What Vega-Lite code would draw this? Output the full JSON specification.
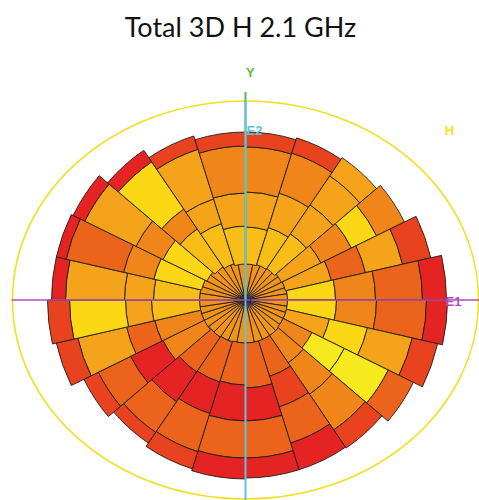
{
  "$schema": "https://vega.github.io/schema/vega-lite/v6.json",
  "autosize": {"type": "none"},
  "padding": {"left": 12, "top": 100, "right": 0, "bottom": 0},
  "width": 467,
  "height": 400,
  "title": {"text": "Total 3D H 2.1 GHz", "font": "Lato", "fontSize": 27, "fontWeight": "normal", "color": "#111111", "anchor": "middle", "frame": "group", "dx": -5, "offset": 3, "baseline": "alphabetic"},
  "config": {"view": {"stroke": null}},
  "datasets": {
    "cells": [
      {"a0":0,"a1":11.72,"r0":0,"r1":36,"level":5},
      {"a0":11.72,"a1":23.18,"r0":0,"r1":37,"level":5},
      {"a0":23.18,"a1":34.18,"r0":0,"r1":38,"level":5},
      {"a0":34.18,"a1":44.63,"r0":0,"r1":39,"level":5},
      {"a0":44.63,"a1":54.5,"r0":0,"r1":40,"level":5},
      {"a0":54.5,"a1":63.86,"r0":0,"r1":41,"level":5},
      {"a0":63.86,"a1":72.81,"r0":0,"r1":41,"level":5},
      {"a0":72.81,"a1":81.48,"r0":0,"r1":42,"level":5},
      {"a0":81.48,"a1":90,"r0":0,"r1":42,"level":5},
      {"a0":90,"a1":98.52,"r0":0,"r1":42,"level":5},
      {"a0":98.52,"a1":107.19,"r0":0,"r1":42,"level":5},
      {"a0":107.19,"a1":116.14,"r0":0,"r1":42,"level":5},
      {"a0":116.14,"a1":125.5,"r0":0,"r1":42,"level":5},
      {"a0":125.5,"a1":135.37,"r0":0,"r1":43,"level":5},
      {"a0":135.37,"a1":145.82,"r0":0,"r1":43,"level":5},
      {"a0":145.82,"a1":156.82,"r0":0,"r1":43,"level":5},
      {"a0":156.82,"a1":168.28,"r0":0,"r1":43,"level":5},
      {"a0":168.28,"a1":180,"r0":0,"r1":43,"level":5},
      {"a0":180,"a1":191.72,"r0":0,"r1":43,"level":5},
      {"a0":191.72,"a1":203.18,"r0":0,"r1":44,"level":5},
      {"a0":203.18,"a1":214.18,"r0":0,"r1":44,"level":5},
      {"a0":214.18,"a1":224.63,"r0":0,"r1":45,"level":5},
      {"a0":224.63,"a1":234.5,"r0":0,"r1":45,"level":5},
      {"a0":234.5,"a1":243.86,"r0":0,"r1":46,"level":5},
      {"a0":243.86,"a1":252.81,"r0":0,"r1":46,"level":5},
      {"a0":252.81,"a1":261.48,"r0":0,"r1":46,"level":5},
      {"a0":261.48,"a1":270,"r0":0,"r1":46,"level":5},
      {"a0":270,"a1":278.52,"r0":0,"r1":46,"level":5},
      {"a0":278.52,"a1":287.19,"r0":0,"r1":46,"level":5},
      {"a0":287.19,"a1":296.14,"r0":0,"r1":45,"level":5},
      {"a0":296.14,"a1":305.5,"r0":0,"r1":44,"level":5},
      {"a0":305.5,"a1":315.37,"r0":0,"r1":43,"level":5},
      {"a0":315.37,"a1":325.82,"r0":0,"r1":41,"level":5},
      {"a0":325.82,"a1":336.82,"r0":0,"r1":39,"level":5},
      {"a0":336.82,"a1":348.28,"r0":0,"r1":38,"level":5},
      {"a0":348.28,"a1":360,"r0":0,"r1":37,"level":5},

      {"a0":0,"a1":17.5,"r0":36,"r1":73,"level":7},
      {"a0":0,"a1":17.5,"r0":73,"r1":108,"level":6},
      {"a0":0,"a1":17.5,"r0":108,"r1":153,"level":4},
      {"a0":0,"a1":17.5,"r0":153,"r1":168,"level":2},

      {"a0":17.5,"a1":34.18,"r0":37,"r1":76,"level":7},
      {"a0":17.5,"a1":34.18,"r0":76,"r1":112,"level":6},
      {"a0":17.5,"a1":34.18,"r0":112,"r1":154,"level":4},
      {"a0":17.5,"a1":34.18,"r0":154,"r1":170,"level":2},

      {"a0":34.18,"a1":49.64,"r0":38,"r1":80,"level":7},
      {"a0":34.18,"a1":49.64,"r0":80,"r1":115,"level":6},
      {"a0":34.18,"a1":49.64,"r0":115,"r1":150,"level":6},
      {"a0":34.18,"a1":49.64,"r0":150,"r1":172,"level":6},

      {"a0":49.64,"a1":63.86,"r0":40,"r1":84,"level":6},
      {"a0":49.64,"a1":63.86,"r0":84,"r1":118,"level":4},
      {"a0":49.64,"a1":63.86,"r0":118,"r1":146,"level":8},
      {"a0":49.64,"a1":63.86,"r0":146,"r1":177,"level":4},

      {"a0":63.86,"a1":77.17,"r0":41,"r1":88,"level":6},
      {"a0":63.86,"a1":77.17,"r0":88,"r1":123,"level":3},
      {"a0":63.86,"a1":77.17,"r0":123,"r1":161,"level":6},
      {"a0":63.86,"a1":77.17,"r0":161,"r1":190,"level":2},

      {"a0":77.17,"a1":90,"r0":42,"r1":90,"level":8},
      {"a0":77.17,"a1":90,"r0":90,"r1":130,"level":4},
      {"a0":77.17,"a1":90,"r0":130,"r1":177,"level":3},
      {"a0":77.17,"a1":90,"r0":177,"r1":201,"level":1},

      {"a0":90,"a1":102.83,"r0":42,"r1":91,"level":8},
      {"a0":90,"a1":102.83,"r0":91,"r1":131,"level":4},
      {"a0":90,"a1":102.83,"r0":131,"r1":181,"level":3},
      {"a0":90,"a1":102.83,"r0":181,"r1":202,"level":1},

      {"a0":102.83,"a1":116.14,"r0":42,"r1":86,"level":6},
      {"a0":102.83,"a1":116.14,"r0":86,"r1":125,"level":8},
      {"a0":102.83,"a1":116.14,"r0":125,"r1":171,"level":6},
      {"a0":102.83,"a1":116.14,"r0":171,"r1":197,"level":2},

      {"a0":116.14,"a1":130.36,"r0":42,"r1":74,"level":4},
      {"a0":116.14,"a1":130.36,"r0":74,"r1":110,"level":9},
      {"a0":116.14,"a1":130.36,"r0":110,"r1":159,"level":9},
      {"a0":116.14,"a1":130.36,"r0":159,"r1":187,"level":3},

      {"a0":130.36,"a1":145.82,"r0":43,"r1":76,"level":4},
      {"a0":130.36,"a1":145.82,"r0":76,"r1":114,"level":4},
      {"a0":130.36,"a1":145.82,"r0":114,"r1":157,"level":4},
      {"a0":130.36,"a1":145.82,"r0":157,"r1":179,"level":2},

      {"a0":145.82,"a1":162.5,"r0":43,"r1":80,"level":3},
      {"a0":145.82,"a1":162.5,"r0":80,"r1":112,"level":2},
      {"a0":145.82,"a1":162.5,"r0":112,"r1":150,"level":3},
      {"a0":145.82,"a1":162.5,"r0":150,"r1":178,"level":1},

      {"a0":162.5,"a1":180,"r0":43,"r1":88,"level":3},
      {"a0":162.5,"a1":180,"r0":88,"r1":121,"level":1},
      {"a0":162.5,"a1":180,"r0":121,"r1":158,"level":3},
      {"a0":162.5,"a1":180,"r0":158,"r1":178,"level":1},

      {"a0":180,"a1":197.5,"r0":43,"r1":85,"level":3},
      {"a0":180,"a1":197.5,"r0":85,"r1":121,"level":1},
      {"a0":180,"a1":197.5,"r0":121,"r1":158,"level":3},
      {"a0":180,"a1":197.5,"r0":158,"r1":179,"level":1},

      {"a0":197.5,"a1":214.18,"r0":44,"r1":86,"level":3},
      {"a0":197.5,"a1":214.18,"r0":86,"r1":119,"level":1},
      {"a0":197.5,"a1":214.18,"r0":119,"r1":159,"level":3},
      {"a0":197.5,"a1":214.18,"r0":159,"r1":177,"level":2},

      {"a0":214.18,"a1":229.64,"r0":45,"r1":87,"level":3},
      {"a0":214.18,"a1":229.64,"r0":87,"r1":123,"level":1},
      {"a0":214.18,"a1":229.64,"r0":123,"r1":160,"level":3},
      {"a0":214.18,"a1":229.64,"r0":160,"r1":173,"level":2},

      {"a0":229.64,"a1":243.86,"r0":46,"r1":92,"level":4},
      {"a0":229.64,"a1":243.86,"r0":92,"r1":128,"level":1},
      {"a0":229.64,"a1":243.86,"r0":128,"r1":164,"level":3},
      {"a0":229.64,"a1":243.86,"r0":164,"r1":180,"level":2},

      {"a0":243.86,"a1":257.17,"r0":46,"r1":93,"level":4},
      {"a0":243.86,"a1":257.17,"r0":93,"r1":122,"level":3},
      {"a0":243.86,"a1":257.17,"r0":122,"r1":172,"level":6},
      {"a0":243.86,"a1":257.17,"r0":172,"r1":194,"level":2},

      {"a0":257.17,"a1":270,"r0":46,"r1":94,"level":7},
      {"a0":257.17,"a1":270,"r0":94,"r1":120,"level":6},
      {"a0":257.17,"a1":270,"r0":120,"r1":176,"level":8},
      {"a0":257.17,"a1":270,"r0":176,"r1":198,"level":2},

      {"a0":270,"a1":282.83,"r0":46,"r1":92,"level":7},
      {"a0":270,"a1":282.83,"r0":92,"r1":121,"level":6},
      {"a0":270,"a1":282.83,"r0":121,"r1":180,"level":6},
      {"a0":270,"a1":282.83,"r0":180,"r1":194,"level":1},

      {"a0":282.83,"a1":296.14,"r0":45,"r1":94,"level":8},
      {"a0":282.83,"a1":296.14,"r0":94,"r1":125,"level":4},
      {"a0":282.83,"a1":296.14,"r0":125,"r1":184,"level":3},
      {"a0":282.83,"a1":296.14,"r0":184,"r1":194,"level":1},

      {"a0":296.14,"a1":310.36,"r0":43,"r1":92,"level":8},
      {"a0":296.14,"a1":310.36,"r0":92,"r1":122,"level":4},
      {"a0":296.14,"a1":310.36,"r0":122,"r1":179,"level":6},
      {"a0":296.14,"a1":310.36,"r0":179,"r1":192,"level":1},

      {"a0":310.36,"a1":325.82,"r0":40,"r1":86,"level":7},
      {"a0":310.36,"a1":325.82,"r0":86,"r1":110,"level":4},
      {"a0":310.36,"a1":325.82,"r0":110,"r1":167,"level":8},
      {"a0":310.36,"a1":325.82,"r0":167,"r1":181,"level":1},

      {"a0":325.82,"a1":342.5,"r0":38,"r1":80,"level":7},
      {"a0":325.82,"a1":342.5,"r0":80,"r1":106,"level":6},
      {"a0":325.82,"a1":342.5,"r0":106,"r1":158,"level":6},
      {"a0":325.82,"a1":342.5,"r0":158,"r1":172,"level":2},

      {"a0":342.5,"a1":360,"r0":36,"r1":74,"level":7},
      {"a0":342.5,"a1":360,"r0":74,"r1":107,"level":6},
      {"a0":342.5,"a1":360,"r0":107,"r1":154,"level":4},
      {"a0":342.5,"a1":360,"r0":154,"r1":168,"level":2}
    ],
    "origin": [{"x": 0, "y": 0}],
    "vaxes": [
      {"axis": "Y", "x": 0, "y": 0, "y2": 208},
      {"axis": "E2", "x": 0, "y": -200, "y2": 200}
    ],
    "haxes": [
      {"axis": "E1", "x": -234, "x2": 245, "y": 0}
    ],
    "labels": [
      {"axis": "Y", "label": "Y", "x": 4.8, "y": 227},
      {"axis": "E2", "label": "E2", "x": 9, "y": 169},
      {"axis": "H", "label": "H", "x": 204, "y": 169},
      {"axis": "E1", "label": "E1", "x": 208, "y": -2}
    ],
    "zlabel": [
      {"axis": "Z", "label": "Z", "x": 4.2, "y": -1.7}
    ]
  },
  "resolve": {"scale": {"color": "independent"}},
  "layer": [
    {
      "data": {"name": "origin"},
      "mark": {"type": "point", "shape": "M-1,0A1,0.854,0,1,0,1,0A1,0.854,0,1,0,-1,0Z", "size": 217156, "filled": false, "stroke": "#f1df1f", "strokeWidth": 1.6, "opacity": 1},
      "encoding": {
        "x": {"field": "x", "type": "quantitative", "scale": {"domain": [-233.5, 233.5], "nice": false, "zero": false}, "axis": null},
        "y": {"field": "y", "type": "quantitative", "scale": {"domain": [-200, 200], "nice": false, "zero": false}, "axis": null}
      }
    },
    {
      "data": {"name": "cells"},
      "mark": {"type": "arc", "stroke": "#1e1e1e", "strokeWidth": 0.9, "strokeJoin": "round"},
      "encoding": {
        "theta": {"field": "a0", "type": "quantitative", "scale": {"type": "linear", "domain": [0, 360], "range": [0, 6.283185307179586]}},
        "theta2": {"field": "a1"},
        "radius": {"field": "r0", "type": "quantitative", "scale": {"type": "linear", "domain": [0, 200], "range": [0, 200], "zero": true}},
        "radius2": {"field": "r1"},
        "color": {"field": "level", "type": "ordinal", "legend": null,
          "scale": {"domain": [1, 2, 3, 4, 5, 6, 7, 8, 9], "range": ["#e42322", "#e8421e", "#ec641b", "#f0861a", "#f2931a", "#f5a31a", "#f9bd17", "#fcd716", "#f6e91d"]}}
      }
    },
    {
      "data": {"name": "vaxes"},
      "mark": {"type": "rule", "strokeWidth": 2},
      "encoding": {
        "x": {"field": "x", "type": "quantitative"},
        "y": {"field": "y", "type": "quantitative"},
        "y2": {"field": "y2"},
        "color": {"field": "axis", "type": "nominal", "legend": null,
          "scale": {"domain": ["Y", "E2", "E1", "H", "Z"], "range": ["#6cb33f", "#5ec4e0", "#b24db7", "#f2e11c", "#2e3192"]}}
      }
    },
    {
      "data": {"name": "haxes"},
      "mark": {"type": "rule", "strokeWidth": 1.3},
      "encoding": {
        "x": {"field": "x", "type": "quantitative"},
        "x2": {"field": "x2"},
        "y": {"field": "y", "type": "quantitative"},
        "color": {"field": "axis", "type": "nominal", "legend": null,
          "scale": {"domain": ["Y", "E2", "E1", "H", "Z"], "range": ["#6cb33f", "#5ec4e0", "#b24db7", "#f2e11c", "#2e3192"]}}
      }
    },
    {
      "data": {"name": "labels"},
      "mark": {"type": "text", "font": "Liberation Sans", "fontWeight": "bold", "fontSize": 13, "align": "center", "baseline": "middle"},
      "encoding": {
        "x": {"field": "x", "type": "quantitative"},
        "y": {"field": "y", "type": "quantitative"},
        "text": {"field": "label"},
        "color": {"field": "axis", "type": "nominal", "legend": null,
          "scale": {"domain": ["Y", "E2", "E1", "H", "Z"], "range": ["#6cb33f", "#5ec4e0", "#b24db7", "#f2e11c", "#2e3192"]}}
      }
    },
    {
      "data": {"name": "zlabel"},
      "mark": {"type": "text", "font": "Liberation Sans", "fontWeight": "bold", "fontSize": 10, "align": "center", "baseline": "middle"},
      "encoding": {
        "x": {"field": "x", "type": "quantitative"},
        "y": {"field": "y", "type": "quantitative"},
        "text": {"field": "label"},
        "color": {"field": "axis", "type": "nominal", "legend": null,
          "scale": {"domain": ["Y", "E2", "E1", "H", "Z"], "range": ["#6cb33f", "#5ec4e0", "#b24db7", "#f2e11c", "#2e3192"]}}
      }
    }
  ]
}
